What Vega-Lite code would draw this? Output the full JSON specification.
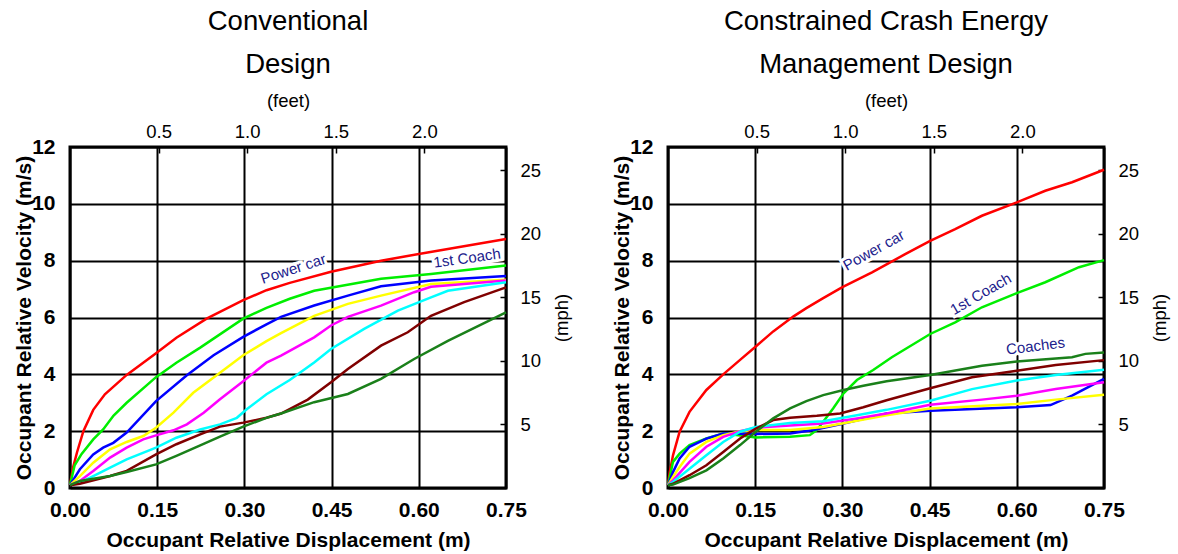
{
 "$schema": "https://vega.github.io/schema/vega-lite/v6.json",
 "padding": {"left": 12, "top": 6, "right": 0, "bottom": 0},
 "background": "white",
 "spacing": 37,
 "config": {
  "font": "Liberation Sans",
  "view": {"stroke": "black", "strokeWidth": 3},
  "axis": {"domain": false, "labelFlush": false, "labelColor": "black", "titleColor": "black", "labelFont": "Liberation Sans", "titleFont": "Liberation Sans"},
  "axisBottom": {"grid": true, "gridColor": "black", "gridWidth": 2, "gridOpacity": 1, "ticks": false, "labelPadding": 11, "labelFontSize": 21, "labelFontWeight": "bold", "titleFontSize": 21, "titleFontWeight": "bold", "titlePadding": 9},
  "axisLeft": {"grid": true, "gridColor": "black", "gridWidth": 2, "gridOpacity": 1, "ticks": false, "labelPadding": 15, "labelFontSize": 21, "labelFontWeight": "bold", "titleFontSize": 21, "titleFontWeight": "bold", "titlePadding": -3},
  "axisTop": {"grid": false, "ticks": true, "tickSize": -6, "tickColor": "black", "tickWidth": 1.5, "labelPadding": 12, "labelFontSize": 18.5, "labelFontWeight": "normal", "titleFontSize": 18.5, "titleFontWeight": "normal", "titlePadding": 12},
  "axisRight": {"grid": false, "ticks": true, "tickSize": -6, "tickColor": "black", "tickWidth": 1.5, "labelPadding": 20, "labelFontSize": 18.5, "labelFontWeight": "normal", "titleFontSize": 18.5, "titleFontWeight": "normal", "titlePadding": 12, "titleAngle": 270, "titleBaseline": "top"},
  "title": {"font": "Liberation Sans", "fontSize": 27.5, "fontWeight": "normal", "color": "black", "anchor": "middle", "frame": "group", "lineHeight": 43, "offset": 13},
  "text": {"font": "Liberation Sans", "fontSize": 15, "fill": "#1c1c8c"}
 },
 "datasets": {
  "conv": [
   {"series":"Power car","disp":0,"vel":0.1},{"series":"Power car","disp":0.005,"vel":0.7},{"series":"Power car","disp":0.012,"vel":1.25},{"series":"Power car","disp":0.023,"vel":2.0},{"series":"Power car","disp":0.04,"vel":2.75},{"series":"Power car","disp":0.06,"vel":3.3},{"series":"Power car","disp":0.0975,"vel":3.98},{"series":"Power car","disp":0.148,"vel":4.74},{"series":"Power car","disp":0.183,"vel":5.29},{"series":"Power car","disp":0.235,"vel":5.96},{"series":"Power car","disp":0.298,"vel":6.61},{"series":"Power car","disp":0.338,"vel":6.96},{"series":"Power car","disp":0.378,"vel":7.22},{"series":"Power car","disp":0.449,"vel":7.61},{"series":"Power car","disp":0.535,"vel":8.0},{"series":"Power car","disp":0.615,"vel":8.29},{"series":"Power car","disp":0.75,"vel":8.76},
   {"series":"1st Coach","disp":0,"vel":0.1},{"series":"1st Coach","disp":0.008,"vel":0.8},{"series":"1st Coach","disp":0.02,"vel":1.2},{"series":"1st Coach","disp":0.04,"vel":1.71},{"series":"1st Coach","disp":0.057,"vel":2.06},{"series":"1st Coach","disp":0.075,"vel":2.55},{"series":"1st Coach","disp":0.0975,"vel":3.0},{"series":"1st Coach","disp":0.148,"vel":3.9},{"series":"1st Coach","disp":0.183,"vel":4.41},{"series":"1st Coach","disp":0.224,"vel":4.94},{"series":"1st Coach","disp":0.298,"vel":5.96},{"series":"1st Coach","disp":0.338,"vel":6.34},{"series":"1st Coach","disp":0.378,"vel":6.66},{"series":"1st Coach","disp":0.42,"vel":6.94},{"series":"1st Coach","disp":0.535,"vel":7.36},{"series":"1st Coach","disp":0.621,"vel":7.53},{"series":"1st Coach","disp":0.75,"vel":7.83},
   {"series":"Coach 2","disp":0,"vel":0.1},{"series":"Coach 2","disp":0.017,"vel":0.66},{"series":"Coach 2","disp":0.04,"vel":1.18},{"series":"Coach 2","disp":0.057,"vel":1.42},{"series":"Coach 2","disp":0.0745,"vel":1.59},{"series":"Coach 2","disp":0.0975,"vel":1.95},{"series":"Coach 2","disp":0.148,"vel":3.06},{"series":"Coach 2","disp":0.201,"vel":3.97},{"series":"Coach 2","disp":0.247,"vel":4.67},{"series":"Coach 2","disp":0.298,"vel":5.32},{"series":"Coach 2","disp":0.338,"vel":5.76},{"series":"Coach 2","disp":0.363,"vel":6.02},{"series":"Coach 2","disp":0.42,"vel":6.42},{"series":"Coach 2","disp":0.478,"vel":6.77},{"series":"Coach 2","disp":0.535,"vel":7.1},{"series":"Coach 2","disp":0.621,"vel":7.3},{"series":"Coach 2","disp":0.75,"vel":7.46},
   {"series":"Coach 3","disp":0,"vel":0.1},{"series":"Coach 3","disp":0.017,"vel":0.42},{"series":"Coach 3","disp":0.04,"vel":0.89},{"series":"Coach 3","disp":0.069,"vel":1.36},{"series":"Coach 3","disp":0.0975,"vel":1.62},{"series":"Coach 3","disp":0.126,"vel":1.83},{"series":"Coach 3","disp":0.148,"vel":2.12},{"series":"Coach 3","disp":0.178,"vel":2.65},{"series":"Coach 3","disp":0.212,"vel":3.35},{"series":"Coach 3","disp":0.258,"vel":4.06},{"series":"Coach 3","disp":0.298,"vel":4.67},{"series":"Coach 3","disp":0.338,"vel":5.17},{"series":"Coach 3","disp":0.363,"vel":5.45},{"series":"Coach 3","disp":0.42,"vel":6.06},{"series":"Coach 3","disp":0.478,"vel":6.48},{"series":"Coach 3","disp":0.535,"vel":6.77},{"series":"Coach 3","disp":0.621,"vel":7.18},{"series":"Coach 3","disp":0.75,"vel":7.33},
   {"series":"Coach 4","disp":0,"vel":0.1},{"series":"Coach 4","disp":0.017,"vel":0.25},{"series":"Coach 4","disp":0.04,"vel":0.6},{"series":"Coach 4","disp":0.069,"vel":1.07},{"series":"Coach 4","disp":0.0975,"vel":1.42},{"series":"Coach 4","disp":0.126,"vel":1.71},{"series":"Coach 4","disp":0.148,"vel":1.85},{"series":"Coach 4","disp":0.178,"vel":2.03},{"series":"Coach 4","disp":0.201,"vel":2.24},{"series":"Coach 4","disp":0.23,"vel":2.65},{"series":"Coach 4","disp":0.258,"vel":3.12},{"series":"Coach 4","disp":0.298,"vel":3.76},{"series":"Coach 4","disp":0.338,"vel":4.41},{"series":"Coach 4","disp":0.363,"vel":4.66},{"series":"Coach 4","disp":0.42,"vel":5.3},{"series":"Coach 4","disp":0.449,"vel":5.72},{"series":"Coach 4","disp":0.478,"vel":6.02},{"series":"Coach 4","disp":0.535,"vel":6.42},{"series":"Coach 4","disp":0.592,"vel":6.89},{"series":"Coach 4","disp":0.621,"vel":7.08},{"series":"Coach 4","disp":0.75,"vel":7.3},
   {"series":"Coach 5","disp":0,"vel":0.1},{"series":"Coach 5","disp":0.017,"vel":0.19},{"series":"Coach 5","disp":0.04,"vel":0.42},{"series":"Coach 5","disp":0.069,"vel":0.72},{"series":"Coach 5","disp":0.0975,"vel":1.01},{"series":"Coach 5","disp":0.148,"vel":1.42},{"series":"Coach 5","disp":0.183,"vel":1.77},{"series":"Coach 5","disp":0.224,"vel":2.06},{"series":"Coach 5","disp":0.258,"vel":2.24},{"series":"Coach 5","disp":0.287,"vel":2.47},{"series":"Coach 5","disp":0.304,"vel":2.77},{"series":"Coach 5","disp":0.338,"vel":3.3},{"series":"Coach 5","disp":0.378,"vel":3.8},{"series":"Coach 5","disp":0.42,"vel":4.42},{"series":"Coach 5","disp":0.449,"vel":4.89},{"series":"Coach 5","disp":0.506,"vel":5.6},{"series":"Coach 5","disp":0.564,"vel":6.24},{"series":"Coach 5","disp":0.621,"vel":6.71},{"series":"Coach 5","disp":0.65,"vel":6.94},{"series":"Coach 5","disp":0.75,"vel":7.24},
   {"series":"Coach 6","disp":0,"vel":0.1},{"series":"Coach 6","disp":0.017,"vel":0.15},{"series":"Coach 6","disp":0.069,"vel":0.42},{"series":"Coach 6","disp":0.0975,"vel":0.6},{"series":"Coach 6","disp":0.148,"vel":1.18},{"series":"Coach 6","disp":0.183,"vel":1.54},{"series":"Coach 6","disp":0.224,"vel":1.89},{"series":"Coach 6","disp":0.258,"vel":2.16},{"series":"Coach 6","disp":0.298,"vel":2.3},{"series":"Coach 6","disp":0.338,"vel":2.47},{"series":"Coach 6","disp":0.363,"vel":2.62},{"series":"Coach 6","disp":0.409,"vel":3.11},{"series":"Coach 6","disp":0.449,"vel":3.72},{"series":"Coach 6","disp":0.478,"vel":4.19},{"series":"Coach 6","disp":0.535,"vel":5.01},{"series":"Coach 6","disp":0.581,"vel":5.48},{"series":"Coach 6","disp":0.621,"vel":6.06},{"series":"Coach 6","disp":0.678,"vel":6.54},{"series":"Coach 6","disp":0.75,"vel":7.06},
   {"series":"Coach 7","disp":0,"vel":0.1},{"series":"Coach 7","disp":0.017,"vel":0.25},{"series":"Coach 7","disp":0.069,"vel":0.42},{"series":"Coach 7","disp":0.0975,"vel":0.56},{"series":"Coach 7","disp":0.148,"vel":0.83},{"series":"Coach 7","disp":0.183,"vel":1.13},{"series":"Coach 7","disp":0.224,"vel":1.5},{"series":"Coach 7","disp":0.258,"vel":1.81},{"series":"Coach 7","disp":0.298,"vel":2.16},{"series":"Coach 7","disp":0.338,"vel":2.47},{"series":"Coach 7","disp":0.363,"vel":2.62},{"series":"Coach 7","disp":0.42,"vel":3.02},{"series":"Coach 7","disp":0.478,"vel":3.31},{"series":"Coach 7","disp":0.535,"vel":3.84},{"series":"Coach 7","disp":0.592,"vel":4.54},{"series":"Coach 7","disp":0.65,"vel":5.18},{"series":"Coach 7","disp":0.75,"vel":6.18}
  ],
  "ccem": [
   {"series":"Power car","disp":0,"vel":0.1},{"series":"Power car","disp":0.003,"vel":0.56},{"series":"Power car","disp":0.0086,"vel":1.15},{"series":"Power car","disp":0.02,"vel":1.98},{"series":"Power car","disp":0.037,"vel":2.68},{"series":"Power car","disp":0.066,"vel":3.45},{"series":"Power car","disp":0.095,"vel":4.0},{"series":"Power car","disp":0.124,"vel":4.51},{"series":"Power car","disp":0.151,"vel":4.98},{"series":"Power car","disp":0.181,"vel":5.51},{"series":"Power car","disp":0.216,"vel":6.04},{"series":"Power car","disp":0.238,"vel":6.33},{"series":"Power car","disp":0.267,"vel":6.68},{"series":"Power car","disp":0.3,"vel":7.07},{"series":"Power car","disp":0.351,"vel":7.59},{"series":"Power car","disp":0.408,"vel":8.23},{"series":"Power car","disp":0.451,"vel":8.7},{"series":"Power car","disp":0.494,"vel":9.11},{"series":"Power car","disp":0.54,"vel":9.58},{"series":"Power car","disp":0.6,"vel":10.05},{"series":"Power car","disp":0.649,"vel":10.46},{"series":"Power car","disp":0.695,"vel":10.76},{"series":"Power car","disp":0.75,"vel":11.2},
   {"series":"1st Coach","disp":0,"vel":0.1},{"series":"1st Coach","disp":0.0086,"vel":0.92},{"series":"1st Coach","disp":0.02,"vel":1.21},{"series":"1st Coach","disp":0.037,"vel":1.51},{"series":"1st Coach","disp":0.066,"vel":1.74},{"series":"1st Coach","disp":0.095,"vel":1.92},{"series":"1st Coach","disp":0.129,"vel":1.84},{"series":"1st Coach","disp":0.151,"vel":1.78},{"series":"1st Coach","disp":0.21,"vel":1.8},{"series":"1st Coach","disp":0.244,"vel":1.86},{"series":"1st Coach","disp":0.256,"vel":2.04},{"series":"1st Coach","disp":0.267,"vel":2.33},{"series":"1st Coach","disp":0.284,"vel":2.8},{"series":"1st Coach","disp":0.302,"vel":3.33},{"series":"1st Coach","disp":0.325,"vel":3.8},{"series":"1st Coach","disp":0.353,"vel":4.15},{"series":"1st Coach","disp":0.385,"vel":4.6},{"series":"1st Coach","disp":0.451,"vel":5.42},{"series":"1st Coach","disp":0.494,"vel":5.83},{"series":"1st Coach","disp":0.54,"vel":6.36},{"series":"1st Coach","disp":0.6,"vel":6.86},{"series":"1st Coach","disp":0.649,"vel":7.24},{"series":"1st Coach","disp":0.707,"vel":7.77},{"series":"1st Coach","disp":0.75,"vel":8.02},
   {"series":"Coach 2","disp":0,"vel":0.1},{"series":"Coach 2","disp":0.0086,"vel":0.56},{"series":"Coach 2","disp":0.02,"vel":1.04},{"series":"Coach 2","disp":0.037,"vel":1.45},{"series":"Coach 2","disp":0.066,"vel":1.74},{"series":"Coach 2","disp":0.095,"vel":1.92},{"series":"Coach 2","disp":0.151,"vel":1.9},{"series":"Coach 2","disp":0.21,"vel":1.92},{"series":"Coach 2","disp":0.25,"vel":2.04},{"series":"Coach 2","disp":0.302,"vel":2.27},{"series":"Coach 2","disp":0.376,"vel":2.62},{"series":"Coach 2","disp":0.451,"vel":2.72},{"series":"Coach 2","disp":0.6,"vel":2.84},{"series":"Coach 2","disp":0.658,"vel":2.92},{"series":"Coach 2","disp":0.695,"vel":3.25},{"series":"Coach 2","disp":0.75,"vel":3.84},
   {"series":"Coach 3","disp":0,"vel":0.1},{"series":"Coach 3","disp":0.0086,"vel":0.39},{"series":"Coach 3","disp":0.02,"vel":0.74},{"series":"Coach 3","disp":0.037,"vel":1.21},{"series":"Coach 3","disp":0.066,"vel":1.62},{"series":"Coach 3","disp":0.095,"vel":1.86},{"series":"Coach 3","disp":0.124,"vel":2.0},{"series":"Coach 3","disp":0.151,"vel":2.04},{"series":"Coach 3","disp":0.21,"vel":2.04},{"series":"Coach 3","disp":0.267,"vel":2.15},{"series":"Coach 3","disp":0.376,"vel":2.56},{"series":"Coach 3","disp":0.451,"vel":2.8},{"series":"Coach 3","disp":0.6,"vel":2.96},{"series":"Coach 3","disp":0.667,"vel":3.11},{"series":"Coach 3","disp":0.75,"vel":3.28},
   {"series":"Coach 4","disp":0,"vel":0.1},{"series":"Coach 4","disp":0.0086,"vel":0.27},{"series":"Coach 4","disp":0.037,"vel":0.92},{"series":"Coach 4","disp":0.066,"vel":1.45},{"series":"Coach 4","disp":0.095,"vel":1.8},{"series":"Coach 4","disp":0.124,"vel":2.0},{"series":"Coach 4","disp":0.151,"vel":2.12},{"series":"Coach 4","disp":0.21,"vel":2.2},{"series":"Coach 4","disp":0.267,"vel":2.27},{"series":"Coach 4","disp":0.325,"vel":2.45},{"series":"Coach 4","disp":0.376,"vel":2.62},{"series":"Coach 4","disp":0.451,"vel":2.93},{"series":"Coach 4","disp":0.54,"vel":3.11},{"series":"Coach 4","disp":0.6,"vel":3.25},{"series":"Coach 4","disp":0.667,"vel":3.48},{"series":"Coach 4","disp":0.75,"vel":3.72},
   {"series":"Coach 5","disp":0,"vel":0.1},{"series":"Coach 5","disp":0.0086,"vel":0.21},{"series":"Coach 5","disp":0.037,"vel":0.68},{"series":"Coach 5","disp":0.066,"vel":1.15},{"series":"Coach 5","disp":0.095,"vel":1.62},{"series":"Coach 5","disp":0.124,"vel":1.98},{"series":"Coach 5","disp":0.151,"vel":2.15},{"series":"Coach 5","disp":0.21,"vel":2.29},{"series":"Coach 5","disp":0.267,"vel":2.35},{"series":"Coach 5","disp":0.325,"vel":2.56},{"series":"Coach 5","disp":0.376,"vel":2.75},{"series":"Coach 5","disp":0.451,"vel":3.07},{"series":"Coach 5","disp":0.523,"vel":3.48},{"series":"Coach 5","disp":0.6,"vel":3.78},{"series":"Coach 5","disp":0.667,"vel":3.98},{"series":"Coach 5","disp":0.75,"vel":4.16},
   {"series":"Coach 6","disp":0,"vel":0.1},{"series":"Coach 6","disp":0.0086,"vel":0.15},{"series":"Coach 6","disp":0.037,"vel":0.45},{"series":"Coach 6","disp":0.066,"vel":0.8},{"series":"Coach 6","disp":0.095,"vel":1.27},{"series":"Coach 6","disp":0.124,"vel":1.74},{"series":"Coach 6","disp":0.151,"vel":2.09},{"series":"Coach 6","disp":0.181,"vel":2.39},{"series":"Coach 6","disp":0.21,"vel":2.47},{"series":"Coach 6","disp":0.256,"vel":2.54},{"series":"Coach 6","disp":0.296,"vel":2.62},{"series":"Coach 6","disp":0.336,"vel":2.84},{"series":"Coach 6","disp":0.376,"vel":3.09},{"series":"Coach 6","disp":0.451,"vel":3.51},{"series":"Coach 6","disp":0.523,"vel":3.9},{"series":"Coach 6","disp":0.6,"vel":4.13},{"series":"Coach 6","disp":0.667,"vel":4.33},{"series":"Coach 6","disp":0.75,"vel":4.5},
   {"series":"Coach 7","disp":0,"vel":0.1},{"series":"Coach 7","disp":0.0086,"vel":0.12},{"series":"Coach 7","disp":0.037,"vel":0.35},{"series":"Coach 7","disp":0.066,"vel":0.62},{"series":"Coach 7","disp":0.095,"vel":1.04},{"series":"Coach 7","disp":0.124,"vel":1.51},{"series":"Coach 7","disp":0.151,"vel":1.98},{"series":"Coach 7","disp":0.181,"vel":2.45},{"series":"Coach 7","disp":0.21,"vel":2.8},{"series":"Coach 7","disp":0.238,"vel":3.06},{"series":"Coach 7","disp":0.267,"vel":3.27},{"series":"Coach 7","disp":0.302,"vel":3.45},{"series":"Coach 7","disp":0.336,"vel":3.6},{"series":"Coach 7","disp":0.376,"vel":3.76},{"series":"Coach 7","disp":0.451,"vel":3.98},{"series":"Coach 7","disp":0.54,"vel":4.3},{"series":"Coach 7","disp":0.6,"vel":4.45},{"series":"Coach 7","disp":0.695,"vel":4.6},{"series":"Coach 7","disp":0.718,"vel":4.72},{"series":"Coach 7","disp":0.75,"vel":4.77}
  ],
  "convLabels": [
   {"label":"Power car","disp":0.384,"vel":7.71},
   {"label":"1st Coach","disp":0.683,"vel":8.09}
  ],
  "ccemLabels": [
   {"label":"Power car","disp":0.354,"vel":8.37},
   {"label":"1st Coach","disp":0.538,"vel":6.83},
   {"label":"Coaches","disp":0.632,"vel":5.0}
  ],
  "frame": [{"ft":0,"mph":0}]
 },
 "hconcat": [
  {
   "title": {"text": ["Conventional", "Design"]},
   "width": 436, "height": 341,
   "layer": [
    {"layer": [
     {"data": {"name": "conv"},
      "mark": {"type": "line", "strokeWidth": 2.5},
      "encoding": {
       "x": {"field": "disp", "type": "quantitative", "scale": {"domain": [0, 0.75], "nice": false},
             "axis": {"orient": "bottom", "title": "Occupant Relative Displacement (m)", "values": [0, 0.15, 0.3, 0.45, 0.6, 0.75], "format": ".2f"}},
       "y": {"field": "vel", "type": "quantitative", "scale": {"domain": [0, 12], "nice": false},
             "axis": {"orient": "left", "title": "Occupant Relative Velocity (m/s)", "values": [0, 2, 4, 6, 8, 10, 12]}},
       "color": {"field": "series", "type": "nominal", "legend": null,
                 "scale": {"domain": ["Power car", "1st Coach", "Coach 2", "Coach 3", "Coach 4", "Coach 5", "Coach 6", "Coach 7"],
                           "range": ["#ff0000", "#00ee00", "#0000ff", "#ffff00", "#ff00ff", "#00ffff", "#800000", "#1a801a"]}}
      }},
     {"data": {"name": "convLabels"}, "transform": [{"filter": "datum.label === 'Power car'"}],
      "mark": {"type": "text", "angle": 342, "stroke": "white", "strokeWidth": 6},
      "encoding": {"x": {"field": "disp", "type": "quantitative"}, "y": {"field": "vel", "type": "quantitative"}, "text": {"field": "label"}}},
     {"data": {"name": "convLabels"}, "transform": [{"filter": "datum.label === 'Power car'"}],
      "mark": {"type": "text", "angle": 342},
      "encoding": {"x": {"field": "disp", "type": "quantitative"}, "y": {"field": "vel", "type": "quantitative"}, "text": {"field": "label"}}},
     {"data": {"name": "convLabels"}, "transform": [{"filter": "datum.label === '1st Coach'"}],
      "mark": {"type": "text", "angle": 352, "stroke": "white", "strokeWidth": 6},
      "encoding": {"x": {"field": "disp", "type": "quantitative"}, "y": {"field": "vel", "type": "quantitative"}, "text": {"field": "label"}}},
     {"data": {"name": "convLabels"}, "transform": [{"filter": "datum.label === '1st Coach'"}],
      "mark": {"type": "text", "angle": 352},
      "encoding": {"x": {"field": "disp", "type": "quantitative"}, "y": {"field": "vel", "type": "quantitative"}, "text": {"field": "label"}}}
    ]},
    {"data": {"name": "frame"},
     "mark": {"type": "point", "opacity": 0},
     "encoding": {
      "x": {"field": "ft", "type": "quantitative", "scale": {"domain": [0, 2.4606], "nice": false},
            "axis": {"orient": "top", "title": "(feet)", "values": [0.5, 1, 1.5, 2], "format": ".1f"}},
      "y": {"field": "mph", "type": "quantitative", "scale": {"domain": [0, 26.843], "nice": false},
            "axis": {"orient": "right", "title": "(mph)", "values": [5, 10, 15, 20, 25]}}
     }}
   ],
   "resolve": {"scale": {"x": "independent", "y": "independent"}}
  },
  {
   "title": {"text": ["Constrained Crash Energy", "Management Design"]},
   "width": 436, "height": 341,
   "layer": [
    {"layer": [
     {"data": {"name": "ccem"},
      "mark": {"type": "line", "strokeWidth": 2.5},
      "encoding": {
       "x": {"field": "disp", "type": "quantitative", "scale": {"domain": [0, 0.75], "nice": false},
             "axis": {"orient": "bottom", "title": "Occupant Relative Displacement (m)", "values": [0, 0.15, 0.3, 0.45, 0.6, 0.75], "format": ".2f"}},
       "y": {"field": "vel", "type": "quantitative", "scale": {"domain": [0, 12], "nice": false},
             "axis": {"orient": "left", "title": "Occupant Relative Velocity (m/s)", "values": [0, 2, 4, 6, 8, 10, 12]}},
       "color": {"field": "series", "type": "nominal", "legend": null,
                 "scale": {"domain": ["Power car", "1st Coach", "Coach 2", "Coach 3", "Coach 4", "Coach 5", "Coach 6", "Coach 7"],
                           "range": ["#ff0000", "#00ee00", "#0000ff", "#ffff00", "#ff00ff", "#00ffff", "#800000", "#1a801a"]}}
      }},
     {"data": {"name": "ccemLabels"}, "transform": [{"filter": "datum.label === 'Power car'"}],
      "mark": {"type": "text", "angle": 331, "stroke": "white", "strokeWidth": 6},
      "encoding": {"x": {"field": "disp", "type": "quantitative"}, "y": {"field": "vel", "type": "quantitative"}, "text": {"field": "label"}}},
     {"data": {"name": "ccemLabels"}, "transform": [{"filter": "datum.label === 'Power car'"}],
      "mark": {"type": "text", "angle": 331},
      "encoding": {"x": {"field": "disp", "type": "quantitative"}, "y": {"field": "vel", "type": "quantitative"}, "text": {"field": "label"}}},
     {"data": {"name": "ccemLabels"}, "transform": [{"filter": "datum.label === '1st Coach'"}],
      "mark": {"type": "text", "angle": 330, "stroke": "white", "strokeWidth": 6},
      "encoding": {"x": {"field": "disp", "type": "quantitative"}, "y": {"field": "vel", "type": "quantitative"}, "text": {"field": "label"}}},
     {"data": {"name": "ccemLabels"}, "transform": [{"filter": "datum.label === '1st Coach'"}],
      "mark": {"type": "text", "angle": 330},
      "encoding": {"x": {"field": "disp", "type": "quantitative"}, "y": {"field": "vel", "type": "quantitative"}, "text": {"field": "label"}}},
     {"data": {"name": "ccemLabels"}, "transform": [{"filter": "datum.label === 'Coaches'"}],
      "mark": {"type": "text", "angle": 353, "stroke": "white", "strokeWidth": 6},
      "encoding": {"x": {"field": "disp", "type": "quantitative"}, "y": {"field": "vel", "type": "quantitative"}, "text": {"field": "label"}}},
     {"data": {"name": "ccemLabels"}, "transform": [{"filter": "datum.label === 'Coaches'"}],
      "mark": {"type": "text", "angle": 353},
      "encoding": {"x": {"field": "disp", "type": "quantitative"}, "y": {"field": "vel", "type": "quantitative"}, "text": {"field": "label"}}}
    ]},
    {"data": {"name": "frame"},
     "mark": {"type": "point", "opacity": 0},
     "encoding": {
      "x": {"field": "ft", "type": "quantitative", "scale": {"domain": [0, 2.4606], "nice": false},
            "axis": {"orient": "top", "title": "(feet)", "values": [0.5, 1, 1.5, 2], "format": ".1f"}},
      "y": {"field": "mph", "type": "quantitative", "scale": {"domain": [0, 26.843], "nice": false},
            "axis": {"orient": "right", "title": "(mph)", "values": [5, 10, 15, 20, 25]}}
     }}
   ],
   "resolve": {"scale": {"x": "independent", "y": "independent"}}
  }
 ]
}
